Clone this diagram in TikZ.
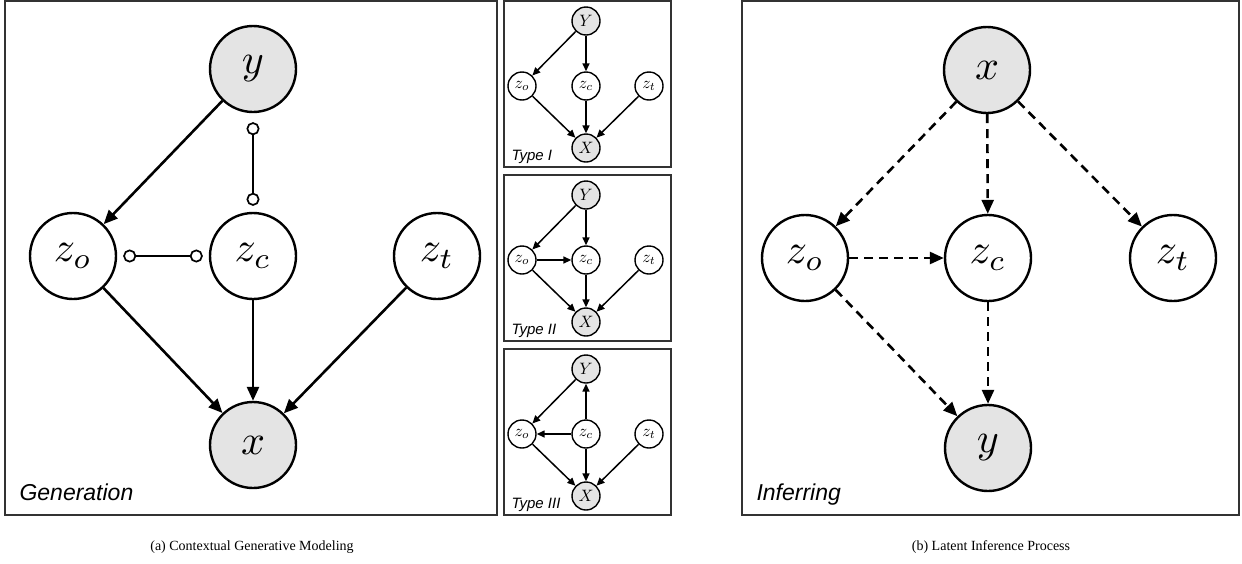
\documentclass[tikz,border=0pt]{standalone}
\usepackage{fontspec}
\setmainfont{Liberation Serif}
\setsansfont{Liberation Sans}
\usetikzlibrary{arrows.meta}
\definecolor{obsgray}{HTML}{E4E4E4}
\definecolor{framegray}{HTML}{333333}
% variable names set in math italic, enlarged
\newcommand{\bigvar}[1]{\scalebox{4.2}{$#1$}}
\newcommand{\smallvar}[1]{\scalebox{1.65}{$#1$}}
\tikzset{
  bignode/.style={circle, draw, line width=2.4pt, minimum size=86pt, inner sep=0pt},
  bigobs/.style={bignode, fill=obsgray},
  smallnode/.style={circle, draw, line width=1.4pt, minimum size=28pt, inner sep=0pt},
  smallobs/.style={smallnode, fill=obsgray},
  bigarrow/.style={line width=2.6pt, -{Triangle[length=14pt,width=12pt]}},
  dasharrow/.style={bigarrow, dash pattern=on 9pt off 6pt},
  linkline/.style={line width=2.2pt,
    {Circle[open,length=13pt,width=13pt,line width=1.7pt]}-{Circle[open,length=13pt,width=13pt,line width=1.7pt]},
    shorten <=6pt, shorten >=6pt},
  smallarrow/.style={line width=1.5pt, -{Triangle[length=8pt,width=7pt]}},
  panel/.style={draw=framegray, line width=1.2pt},
  panellabel/.style={anchor=base west, font=\sffamily\itshape\fontsize{23}{26}\selectfont},
  typelabel/.style={anchor=base west, font=\sffamily\itshape\fontsize{15}{17}\selectfont},
  caption/.style={anchor=base, font=\fontsize{14}{16}\selectfont},
}
\begin{document}
\begin{tikzpicture}[x=1pt, y=-1pt]
\useasboundingbox (0,0) rectangle (1242,563);

% ---------- (a) generation ----------
\draw[panel] (5,1) rectangle (497,515);
\node[bigobs]   (ay)  at (253,69)  {\bigvar{y}};
\node[bignode]  (azo) at (73,256)  {\bigvar{z_o}};
\node[bignode]  (azc) at (253,256) {\bigvar{z_c}};
\node[bignode]  (azt) at (437,256) {\bigvar{z_t}};
\node[bigobs]   (ax)  at (253,445) {\bigvar{x}};
\draw[bigarrow] (ay) -- (azo);
\draw[bigarrow] (azo) -- (ax);
\draw[bigarrow] (azc) -- (ax);
\draw[bigarrow] (azt) -- (ax);
\draw[linkline, shorten <=9pt] (ay) -- (azc);
\draw[linkline] (azo) -- (azc);
\node[panellabel] (agen) at (16,500) {Generation};

% ---------- type I ----------
\draw[panel] (504,1) rectangle (671,167);
\node[smallobs]  (t1y)  at (586,21)  {\smallvar{Y}};
\node[smallnode] (t1zo) at (522,86)  {\smallvar{z_o}};
\node[smallnode] (t1zc) at (586,86)  {\smallvar{z_c}};
\node[smallnode] (t1zt) at (649,86)  {\smallvar{z_t}};
\node[smallobs]  (t1x)  at (586,148) {\smallvar{X}};
\draw[smallarrow] (t1y) -- (t1zo);
\draw[smallarrow] (t1y) -- (t1zc);
\draw[smallarrow] (t1zo) -- (t1x);
\draw[smallarrow] (t1zc) -- (t1x);
\draw[smallarrow] (t1zt) -- (t1x);
\node[typelabel] (t1lab) at (508,160) {Type I};

% ---------- type II ----------
\draw[panel] (504,175) rectangle (671,341);
\node[smallobs]  (t2y)  at (586,195) {\smallvar{Y}};
\node[smallnode] (t2zo) at (522,260) {\smallvar{z_o}};
\node[smallnode] (t2zc) at (586,260) {\smallvar{z_c}};
\node[smallnode] (t2zt) at (649,260) {\smallvar{z_t}};
\node[smallobs]  (t2x)  at (586,322) {\smallvar{X}};
\draw[smallarrow] (t2y) -- (t2zo);
\draw[smallarrow] (t2y) -- (t2zc);
\draw[smallarrow] (t2zo) -- (t2zc);
\draw[smallarrow] (t2zo) -- (t2x);
\draw[smallarrow] (t2zc) -- (t2x);
\draw[smallarrow] (t2zt) -- (t2x);
\node[typelabel] (t2lab) at (508,334) {Type II};

% ---------- type III ----------
\draw[panel] (504,349) rectangle (671,515);
\node[smallobs]  (t3y)  at (586,369) {\smallvar{Y}};
\node[smallnode] (t3zo) at (522,434) {\smallvar{z_o}};
\node[smallnode] (t3zc) at (586,434) {\smallvar{z_c}};
\node[smallnode] (t3zt) at (649,434) {\smallvar{z_t}};
\node[smallobs]  (t3x)  at (586,496) {\smallvar{X}};
\draw[smallarrow] (t3y) -- (t3zo);
\draw[smallarrow] (t3zc) -- (t3y);
\draw[smallarrow] (t3zc) -- (t3zo);
\draw[smallarrow] (t3zo) -- (t3x);
\draw[smallarrow] (t3zc) -- (t3x);
\draw[smallarrow] (t3zt) -- (t3x);
\node[typelabel] (t3lab) at (508,508) {Type III};

% ---------- (b) inference ----------
\draw[panel] (742,1) rectangle (1239,515);
\node[bigobs]   (bx)  at (987,70)   {\bigvar{x}};
\node[bignode]  (bzo) at (805,258)  {\bigvar{z_o}};
\node[bignode]  (bzc) at (988,258)  {\bigvar{z_c}};
\node[bignode]  (bzt) at (1173,258) {\bigvar{z_t}};
\node[bigobs]   (by)  at (988,448)  {\bigvar{y}};
\draw[dasharrow] (bx) -- (bzo);
\draw[dasharrow] (bx) -- (bzc);
\draw[dasharrow] (bx) -- (bzt);
\draw[dasharrow] (bzo) -- (bzc);
\draw[dasharrow] (bzo) -- (by);
\draw[dasharrow] (bzc) -- (by);
\node[panellabel] (binf) at (753,500) {Inferring};

% ---------- captions ----------
\node[caption] (capa) at (252,550) {(a) Contextual Generative Modeling};
\node[caption] (capb) at (991,550) {(b) Latent Inference Process};
\end{tikzpicture}
\end{document}
